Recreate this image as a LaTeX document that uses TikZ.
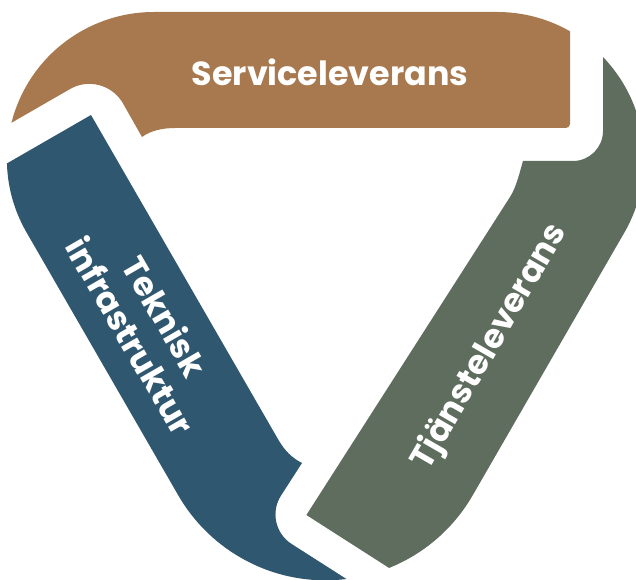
\documentclass[tikz,border=0pt]{standalone}
\usepackage{fontspec}
\setmainfont{Poppins}
\usepackage{tikz}

\begin{document}
\begin{tikzpicture}[x=0.75pt,y=0.75pt,yscale=-1,
  bandlabel/.style={text=white, font=\bfseries\fontsize{25}{30}\selectfont, align=center, inner sep=0pt}]
%set diagram left start at 0, and has height of 580
\useasboundingbox (0,0) rectangle (636,580);
\clip (0,0) rectangle (636,580);

\begin{scope}
%Outer rounded triangle [clip]
\clip (26.6,232.5) arc[start angle=150, end angle=270, radius=147] -- (497.1,12) arc[start angle=270, end angle=390, radius=147] -- (472.7,495.3) arc[start angle=30, end angle=150, radius=170] -- cycle ;

%Shape: Serviceleverans band
\fill [fill={rgb, 255:red, 168; green, 121; blue, 78 }] (570,-40) -- (570,124) .. controls (570,126.2) and (567.8,128) .. (566,128) -- (175,128) .. controls (162,128) and (150,131) .. (142,137) -- (122.5,102.6) .. controls (111.8,84.7) and (88.2,78.5) .. (70.1,89) -- (-60,164) -- (-60,-40) -- cycle ;

%Shape: Tjansteleverans band
\fill [fill={rgb, 255:red, 94; green, 109; blue, 94 }] (603,-40) -- (603,131) .. controls (603,147.5) and (589.5,161) .. (573,161) -- (523,161) .. controls (520,171) and (516.5,187) .. (510,197) -- (306.4,515) -- (500,639) -- (700,639) -- (700,-40) -- cycle ;

%Shape: Teknisk infrastruktur band
\fill [fill={rgb, 255:red, 47; green, 87; blue, 111 }] (-60,202) -- (91,115) -- (278.5,440) .. controls (284.5,450.4) and (292,458) .. (302,463) -- (281,495.6) .. controls (270.6,511.8) and (275.3,533.5) .. (291.5,543.9) -- (420,626) -- (-60,626) -- cycle ;
\end{scope}

% Labels
\node [bandlabel] (service) at (330,72) {Serviceleverans};
\node [bandlabel, rotate=-60] (infra) at (148,326) {Teknisk\\infrastruktur};
\node [bandlabel, rotate=60] (tjanst) at (490,347) {Tjänsteleverans};

\end{tikzpicture}
\end{document}
